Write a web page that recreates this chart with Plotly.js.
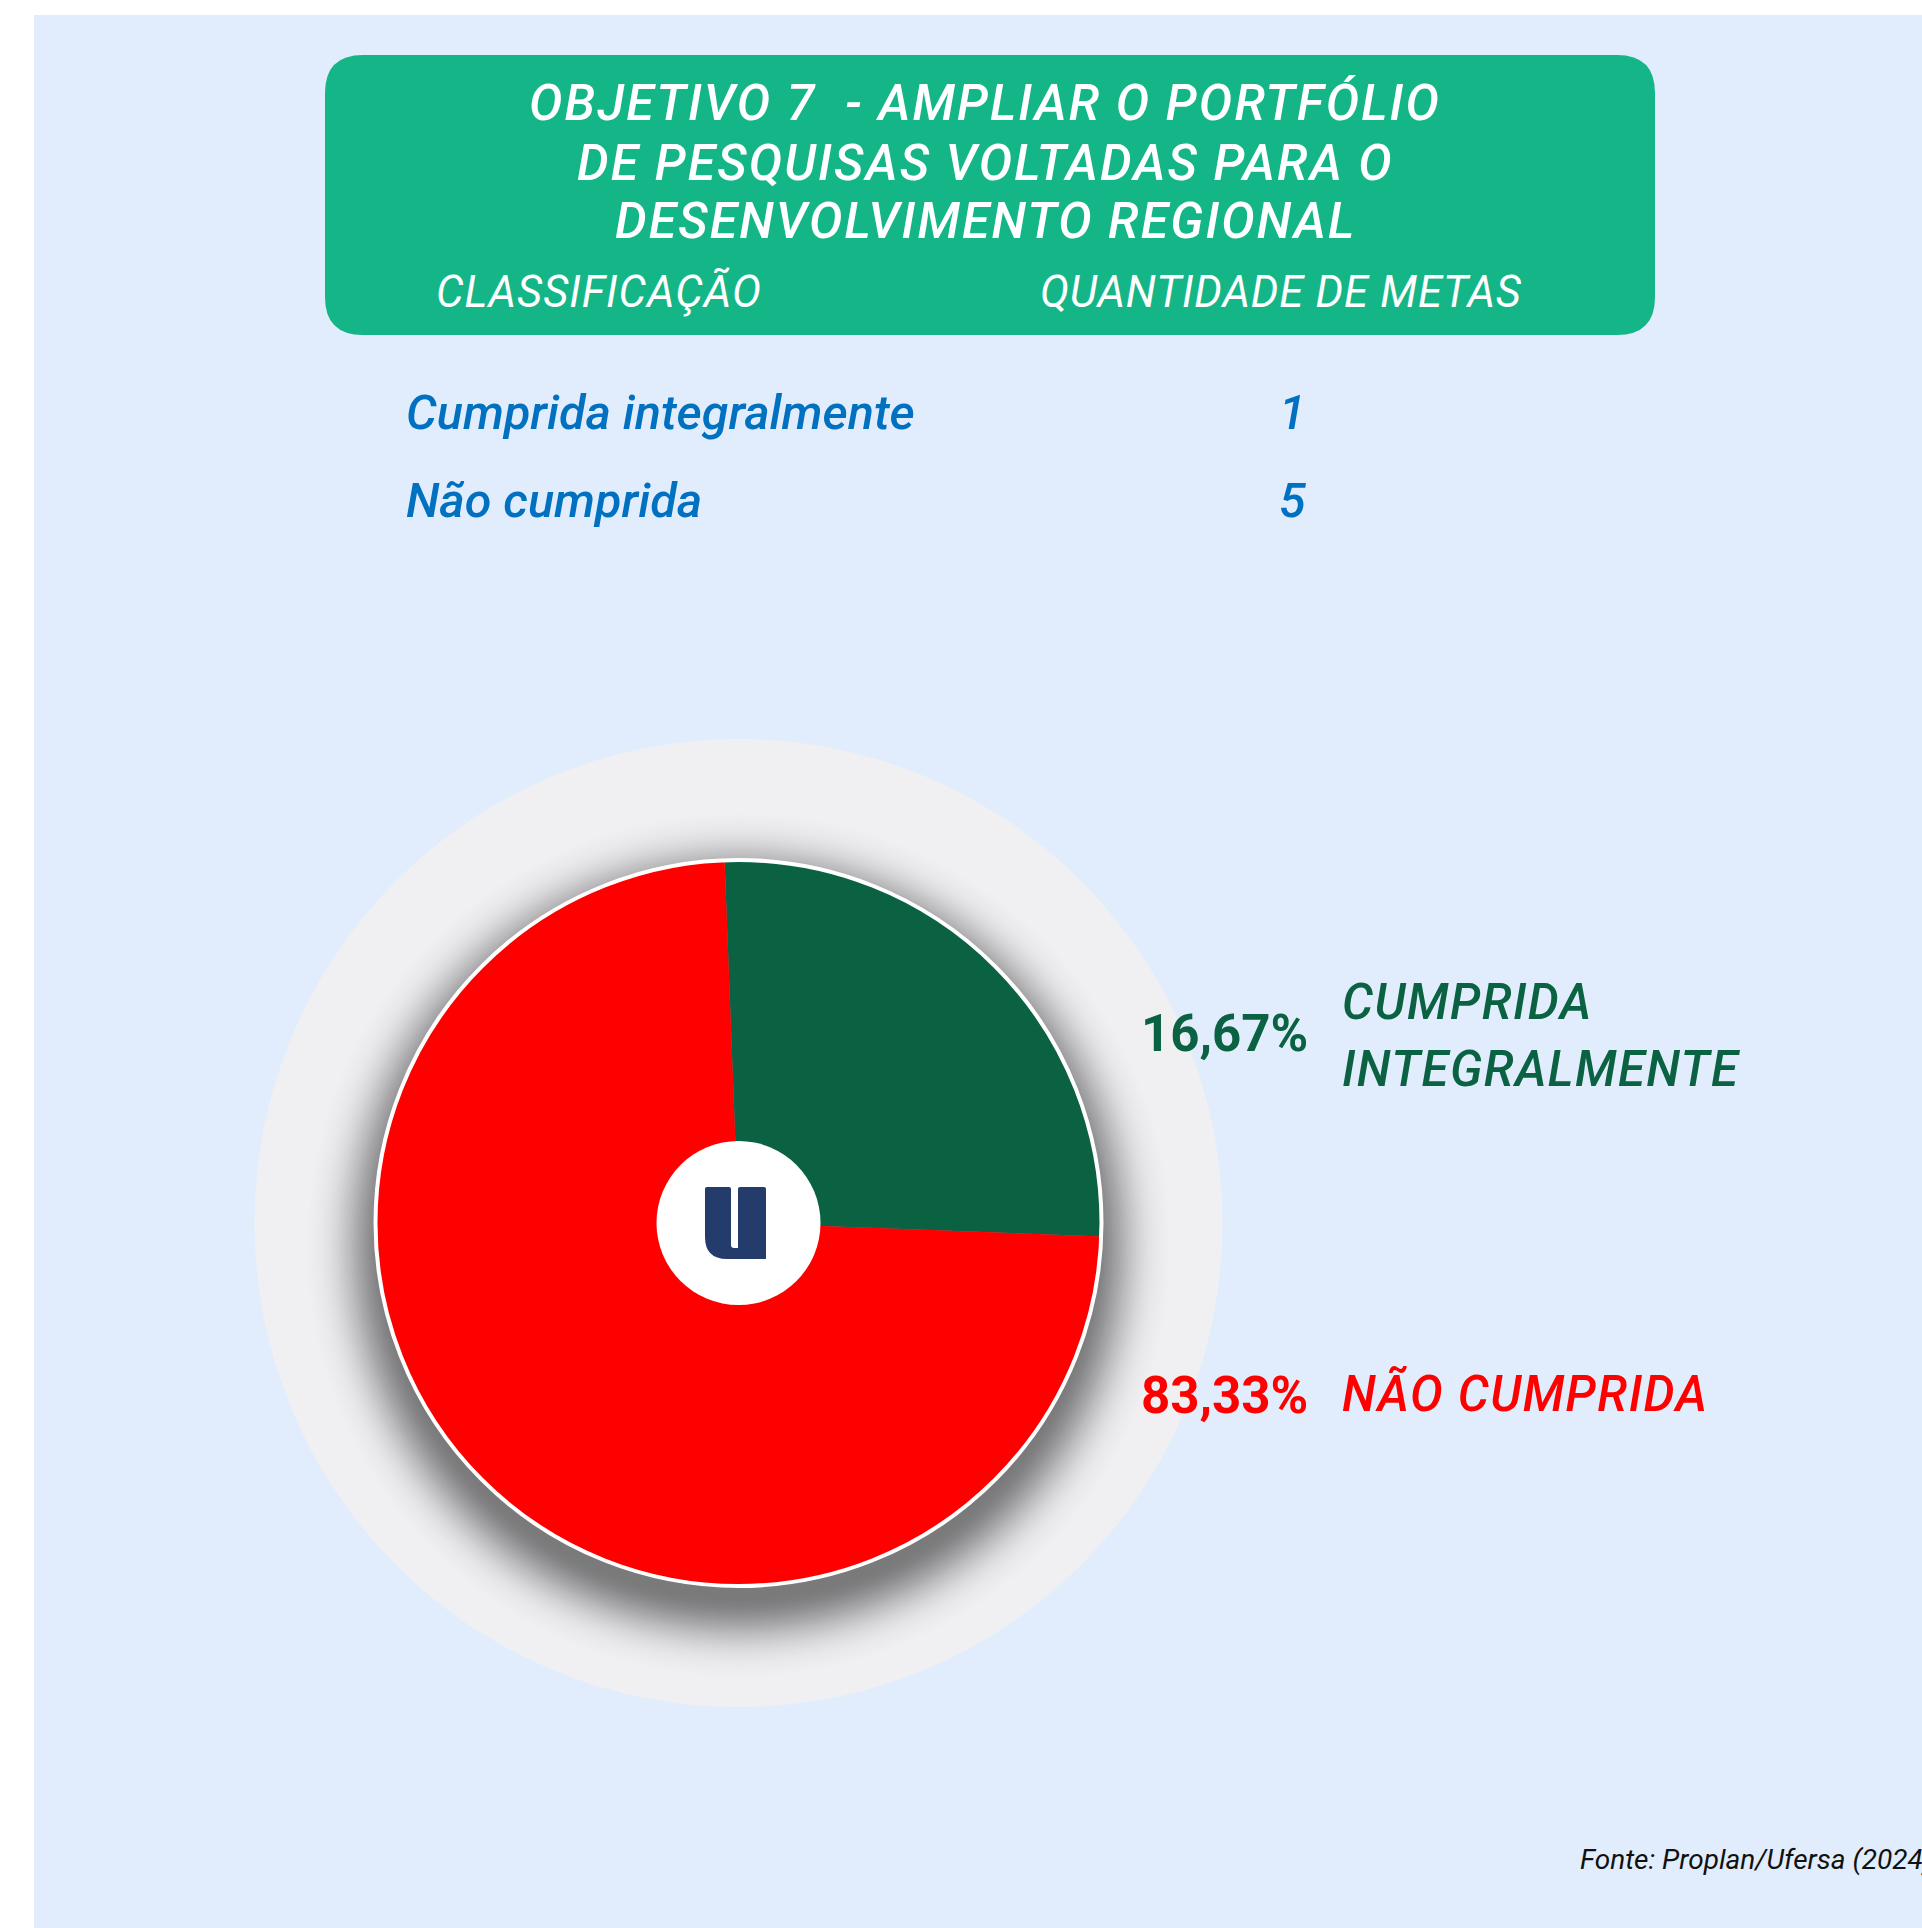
<!DOCTYPE html>
<html>
<head>
<meta charset="utf-8">
<script src="https://cdn.plot.ly/plotly-3.0.1.min.js"></script>
<style>
  html, body { margin: 0; padding: 0; overflow: hidden; background: #ffffff; }
  #chart { width: 1922px; height: 1928px; }
</style>
</head>
<body>
<div id="chart"></div>
<script>
// ---------------- data ----------------
const titleLines = ["OBJETIVO 7\u00A0 - AMPLIAR O PORTFÓLIO", "DE PESQUISAS VOLTADAS PARA O", "DESENVOLVIMENTO REGIONAL"];
const tableHeaders = ["CLASSIFICAÇÃO", "QUANTIDADE DE METAS"];
const categories = ["Cumprida integralmente", "Não cumprida"];
const metas = [1, 5];
const pieLabelLines = [["CUMPRIDA", "INTEGRALMENTE"], ["NÃO CUMPRIDA"]];
// wedge sizes as they are drawn in the reference picture (share of the circle, %)
const drawnShares = [26.2, 73.8];
const sourceNote = "Fonte: Proplan/Ufersa (2024)";

// ---------------- styling / helpers ----------------
const W = 1922, H = 1928;
const X = px => px / W;
const Y = py => 1 - py / H;
const sliceColors = ["#0B6243", "#FF0000"];
const total = metas.reduce((a, b) => a + b, 0);
const percentLabels = metas.map(v => (v / total * 100).toFixed(2).replace('.', ',') + '%');

const cx = 738.5, cy = 1223, R = 364;

function circle(x, y, r, o) {
  return Object.assign({type: 'circle', xref: 'paper', yref: 'paper',
    x0: X(x - r), x1: X(x + r), y0: Y(y + r), y1: Y(y - r), line: {width: 0}}, o);
}
function pathFrom(cmds, o) {
  const s = cmds.map(c => {
    const L = c[0]; const pts = [];
    for (let i = 1; i < c.length; i += 2) pts.push(X(c[i]).toFixed(6) + ',' + Y(c[i + 1]).toFixed(6));
    return L + (pts.length ? ' ' + pts.join(' ') : '');
  }).join(' ');
  return Object.assign({type: 'path', xref: 'paper', yref: 'paper', path: s, line: {width: 0}}, o);
}
function roundRect(x0, y0, x1, y1, r, o) {
  return pathFrom([
    ['M', x0 + r, y0], ['L', x1 - r, y0], ['Q', x1, y0, x1, y0 + r],
    ['L', x1, y1 - r], ['Q', x1, y1, x1 - r, y1], ['L', x0 + r, y1],
    ['Q', x0, y1, x0, y1 - r], ['L', x0, y0 + r], ['Q', x0, y0, x0 + r, y0], ['Z']
  ], o);
}

const shapes = [];
// light-blue page panel
shapes.push({type: 'rect', xref: 'paper', yref: 'paper', x0: X(34), x1: X(1922), y0: Y(1928), y1: Y(15),
  fillcolor: '#E1EDFC', line: {width: 0}, layer: 'below'});
// green header box
shapes.push(roundRect(325, 55, 1655, 335, 38, {fillcolor: '#14B687', layer: 'below'}));
// outer grey disc
shapes.push(circle(cx, cy, 484, {fillcolor: '#F0F0F2', layer: 'below'}));
// soft drop shadow under the pie (stacked translucent rings)
(function () {
  const off = 22, base = R - 12, sigma = 30, A = 0.45;
  const alpha = d => A * Math.exp(-d * d / (2 * sigma * sigma));
  let Tprev = 1;
  for (let d = 100; d >= 0; d -= 2) {
    const T = 1 - alpha(d);
    const a = 1 - T / Tprev;
    Tprev = T;
    shapes.push(circle(cx, cy + off, base + d, {fillcolor: 'rgba(0,0,0,' + a.toFixed(4) + ')', layer: 'below'}));
  }
})();
// white rim around the pie
shapes.push(circle(cx, cy, R - 1, {fillcolor: 'rgba(0,0,0,0)', line: {color: '#FFFFFF', width: 4}, layer: 'above'}));
// centre logo disc
shapes.push(circle(cx, cy, 82, {fillcolor: '#FFFFFF', layer: 'above'}));
// logo letter "u"
shapes.push(pathFrom([
  ['M', 707, 1187], ['L', 729, 1187], ['Q', 731, 1187, 731, 1189], ['L', 731, 1245],
  ['Q', 731, 1248, 734, 1248], ['L', 738, 1248], ['L', 738, 1189], ['Q', 738, 1187, 740, 1187],
  ['L', 764, 1187], ['Q', 766, 1187, 766, 1189], ['L', 766, 1259], ['L', 727, 1259],
  ['Q', 705, 1259, 705, 1237], ['L', 705, 1189], ['Q', 705, 1187, 707, 1187], ['Z']
], {fillcolor: '#243C6B', layer: 'above'}));

// ---------------- annotations ----------------
const annotations = [];
function ann(text, px, py, font, xanchor, spacing) {
  const t = spacing ? '<span style="letter-spacing:' + spacing + 'px">' + text + '</span>' : text;
  annotations.push({text: t, xref: 'paper', yref: 'paper', x: X(px), y: Y(py),
    xanchor: xanchor || 'left', yanchor: 'middle', showarrow: false,
    font: Object.assign({family: 'Roboto, sans-serif'}, font)});
}
const titleFont = {size: 50, color: '#FFFFFF', style: 'italic', weight: 500};
[103, 163, 221].forEach((yy, i) => ann(titleLines[i], 985, yy, titleFont, 'center', 2.1));

const headFont = {size: 43.5, color: '#FFFFFF', style: 'italic', weight: 400};
ann(tableHeaders[0], 434, 292.5, headFont, 'left', 1);
ann(tableHeaders[1], 1038, 292.5, headFont, 'left', 0.8);

const rowFont = {size: 48.5, color: '#0070C0', style: 'italic', weight: 500};
[412.5, 500.5].forEach((yy, i) => {
  ann(categories[i], 404, yy, rowFont, 'left');
  ann(String(metas[i]), 1292, yy, rowFont, 'center');
});

// pie labels
const pctY = [1033.5, 1395.5];
const nameY = [[1002.5, 1069], [1394.5]];
percentLabels.forEach((p, i) => {
  ann(p, 1139, pctY[i], {size: 51, color: sliceColors[i], weight: 700}, 'left');
  pieLabelLines[i].forEach((t, j) => ann(t, 1340, nameY[i][j], {size: 49, color: sliceColors[i], style: 'italic', weight: 500}, 'left', 1.4));
});

ann(sourceNote, 1578, 1859.5, {size: 28, color: '#111111', style: 'italic', weight: 400}, 'left');

// ---------------- pie ----------------
const data = [{
  type: 'pie',
  labels: categories,
  values: drawnShares,
  sort: false,
  direction: 'clockwise',
  rotation: -2.2,
  marker: {colors: sliceColors, line: {width: 0}},
  textinfo: 'none',
  hoverinfo: 'none',
  showlegend: false,
  domain: {x: [X(cx - R), X(cx + R)], y: [Y(cy + R), Y(cy - R)]}
}];

const layout = {
  width: W, height: H,
  margin: {l: 0, r: 0, t: 0, b: 0, pad: 0},
  paper_bgcolor: '#FFFFFF',
  plot_bgcolor: 'rgba(0,0,0,0)',
  showlegend: false,
  shapes: shapes,
  annotations: annotations
};

Plotly.newPlot('chart', data, layout, {staticPlot: true, displayModeBar: false});
</script>
</body>
</html>
